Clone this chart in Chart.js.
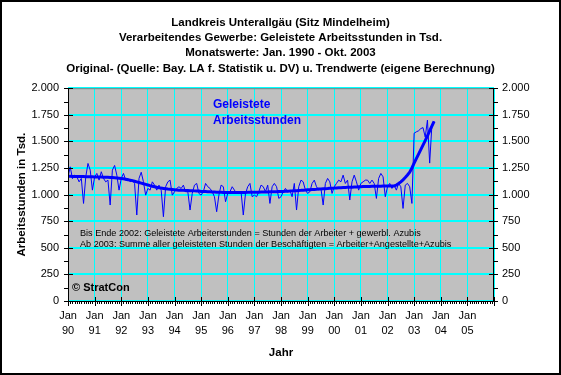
<!DOCTYPE html>
<html>
<head>
<meta charset="utf-8">
<script src="https://cdn.jsdelivr.net/npm/chart.js@4.4.0/dist/chart.umd.min.js"></script>
<style>
  body { margin: 0; background: #fff; }
</style>
</head>
<body>
<canvas id="chart" width="561" height="375"></canvas>
<script>
const titleLines = [
    "Landkreis Unterallgäu (Sitz Mindelheim)",
    "Verarbeitendes Gewerbe: Geleistete Arbeitsstunden in Tsd.",
    "Monatswerte: Jan. 1990 - Okt. 2003",
    "Original- (Quelle: Bay. LA f. Statistik u. DV) u. Trendwerte (eigene Berechnung)",
];
const yearLabels = ["90", "91", "92", "93", "94", "95", "96", "97", "98", "99", "00", "01", "02", "03", "04", "05"];
const notes = [
    "Bis Ende 2002: Geleistete Arbeiterstunden = Stunden der Arbeiter + gewerbl. Azubis",
    "Ab 2003: Summe aller geleisteten Stunden der Beschäftigten = Arbeiter+Angestellte+Azubis",
];

// monthly values, Jan 1990 - Oct 2003
const original = [
    1167, 1261, 1150, 1183, 1167, 1120, 1152, 917, 1167, 1293, 1230, 1042,
    1167, 1199, 1136, 1215, 1152, 1120, 1136, 902, 1230, 1274, 1183, 1042,
    1152, 1199, 1136, 1152, 1120, 1136, 1105, 808, 1152, 1210, 1120, 995,
    1058, 1042, 1120, 1089, 1042, 1089, 1042, 792, 1074, 1120, 1136, 995,
    1027, 1058, 1074, 1058, 1089, 1027, 1027, 855, 1011, 1089, 1105, 1011,
    995, 1027, 1105, 1074, 1058, 1027, 980, 839, 995, 1089, 1074, 933,
    1011, 1027, 1074, 1042, 1011, 1011, 1027, 808, 1011, 1074, 1105, 980,
    995, 980, 1027, 1089, 1074, 1027, 1089, 917, 1074, 1105, 1074, 964,
    980, 1027, 1058, 1027, 1042, 980, 1105, 855, 1074, 1136, 1120, 1042,
    1011, 1027, 1105, 1136, 1074, 1042, 1058, 902, 1105, 1152, 1120, 1011,
    1074, 1105, 1136, 1120, 1183, 1105, 1136, 949, 1120, 1183, 1120, 1042,
    1105, 1120, 1136, 1136, 1105, 1136, 1105, 964, 1152, 1199, 1167, 980,
    1074, 1105, 1058, 1089, 1042, 1105, 1074, 870, 1089, 1105, 1074, 917,
    1577, 1590, 1600, 1620, 1630, 1540, 1700, 1296, 1650, 1690,
];
const trend = [
    1172, 1172, 1171, 1171, 1170, 1170, 1169, 1169, 1168, 1168, 1167, 1167,
    1166, 1166, 1165, 1165, 1164, 1163, 1162, 1161, 1160, 1158, 1156, 1154,
    1151, 1148, 1144, 1140, 1136, 1131, 1126, 1120, 1114, 1108, 1102, 1096,
    1090, 1084, 1079, 1074, 1069, 1065, 1061, 1058, 1055, 1052, 1050, 1048,
    1046, 1044, 1042, 1041, 1040, 1039, 1038, 1037, 1036, 1035, 1034, 1034,
    1030, 1029, 1028, 1027, 1026, 1025, 1024, 1023, 1022, 1021, 1020, 1020,
    1019, 1019, 1019, 1019, 1019, 1019, 1020, 1020, 1020, 1021, 1021, 1022,
    1022, 1023, 1023, 1024, 1024, 1025, 1025, 1026, 1026, 1027, 1027, 1028,
    1029, 1030, 1031, 1032, 1033, 1035, 1036, 1037, 1039, 1040, 1042, 1043,
    1045, 1046, 1048, 1049, 1050, 1052, 1053, 1055, 1056, 1057, 1059, 1060,
    1061, 1063, 1064, 1065, 1066, 1067, 1068, 1069, 1070, 1071, 1072, 1073,
    1074, 1075, 1076, 1077, 1077, 1078, 1078, 1079, 1079, 1079, 1080, 1080,
    1080, 1080, 1080, 1081, 1090, 1104, 1120, 1139, 1160, 1184, 1211, 1250,
    1295, 1338, 1380, 1422, 1465, 1508, 1552, 1598, 1644, 1688,
];

const FONT = '"Liberation Sans", Arial, sans-serif';
const BLUE = "#0000ff";
const CYAN = "#00ffff";

const toPoints = (arr) => arr.map((v, i) => ({ x: i, y: v }));

function fmt(v) {
    if (v >= 1000) return Math.floor(v / 1000) + "." + String(v % 1000).padStart(3, "0");
    return String(v);
}

function line(ctx, x1, y1, x2, y2) {
    ctx.beginPath();
    ctx.moveTo(x1, y1);
    ctx.lineTo(x2, y2);
    ctx.stroke();
}

const frame = {
    id: "frame",
    beforeDraw(chart) {
        const { ctx, chartArea: a } = chart;
        ctx.save();
        ctx.fillStyle = "#fff";
        ctx.fillRect(0, 0, chart.width, chart.height);
        ctx.fillStyle = "#c0c0c0";
        ctx.fillRect(a.left, a.top, a.right - a.left, a.bottom - a.top);
        ctx.restore();
    },
    afterDraw(chart) {
        const { ctx, chartArea: a, scales } = chart;
        const xs = scales.x, ys = scales.y;
        ctx.save();
        ctx.lineWidth = 1;
        ctx.strokeStyle = "#808080";
        line(ctx, a.left, a.top + 0.5, a.right, a.top + 0.5);
        ctx.strokeStyle = "#000";
        line(ctx, a.left + 0.5, a.top, a.left + 0.5, a.bottom + 1);
        line(ctx, a.right - 0.5, a.top, a.right - 0.5, a.bottom + 1);
        line(ctx, a.left, a.bottom + 0.5, a.right, a.bottom + 0.5);

        // y ticks, major every 250, minor every 125
        for (let v = 0; v <= 2000; v += 125) {
            const py = Math.round(ys.getPixelForValue(v)) + 0.5;
            const major = v % 250 === 0;
            line(ctx, a.left - 4, py, major ? a.left + 5 : a.left, py);
            line(ctx, major ? a.right - 5 : a.right, py, a.right + 4, py);
        }
        // x ticks, major per year, minor per month
        for (let m = 0; m <= 192; m++) {
            const px = Math.round(xs.getPixelForValue(m)) + 0.5;
            const major = m % 12 === 0;
            line(ctx, px, major ? a.bottom - 4 : a.bottom, px, a.bottom + (major ? 5 : 3));
        }

        // series label
        ctx.fillStyle = BLUE;
        ctx.font = "bold 12px " + FONT;
        ctx.textBaseline = "middle";
        ctx.fillText("Geleistete", 213, 105);
        ctx.fillText("Arbeitsstunden", 213, 121);

        // notes
        ctx.fillStyle = "#000";
        ctx.font = "9.1px " + FONT;
        ctx.fillText(notes[0], 80, 233);
        ctx.fillText(notes[1], 80, 244);

        ctx.font = "bold 11px " + FONT;
        ctx.fillText("© StratCon", 72, 288);

        // outer frame
        ctx.lineWidth = 2;
        ctx.strokeRect(1, 1, chart.width - 2, chart.height - 2);
        ctx.restore();
    },
};

const config = {
    type: "line",
    data: {
        datasets: [
            {
                label: "Original",
                data: toPoints(original),
                borderColor: BLUE,
                borderWidth: 1,
                pointRadius: 0,
                tension: 0,
            },
            {
                label: "Trend",
                data: toPoints(trend),
                borderColor: BLUE,
                borderWidth: 3,
                pointRadius: 0,
                tension: 0,
            },
        ],
    },
    options: {
        responsive: false,
        animation: false,
        devicePixelRatio: 1,
        layout: { padding: 0 },
        scales: {
            x: {
                type: "linear",
                min: 0,
                max: 192,
                afterFit: (s) => { s.height = 74; },
                ticks: {
                    stepSize: 12,
                    autoSkip: false,
                    maxRotation: 0,
                    padding: 7,
                    color: "#000",
                    font: { family: FONT, size: 11, lineHeight: "15px" },
                    callback: (v) => (v < 192 ? ["Jan", yearLabels[v / 12]] : ""),
                },
                grid: { color: CYAN, lineWidth: 1, drawTicks: false },
                border: { display: false },
                title: {
                    display: true,
                    text: "Jahr",
                    color: "#000",
                    font: { family: FONT, size: 11.5, weight: "bold" },
                    padding: { top: 0, bottom: 15 },
                },
            },
            y: {
                position: "left",
                min: 0,
                max: 2000,
                afterFit: (s) => { s.width = 68; },
                ticks: {
                    stepSize: 250,
                    padding: 9,
                    color: "#000",
                    font: { family: FONT, size: 11 },
                    callback: (v) => fmt(v),
                },
                grid: { color: CYAN, lineWidth: 2, drawTicks: false },
                border: { display: false },
                title: {
                    display: true,
                    text: "Arbeitsstunden in Tsd.",
                    color: "#000",
                    font: { family: FONT, size: 11.5, weight: "bold" },
                    padding: { top: 15, bottom: 0 },
                },
            },
            y2: {
                position: "right",
                min: 0,
                max: 2000,
                afterFit: (s) => { s.width = 67; },
                ticks: {
                    stepSize: 250,
                    padding: 8,
                    color: "#000",
                    font: { family: FONT, size: 11 },
                    callback: (v) => fmt(v),
                },
                grid: { display: false, drawTicks: false },
                border: { display: false },
            },
        },
        plugins: {
            legend: { display: false },
            tooltip: { enabled: false },
            title: {
                display: true,
                text: titleLines,
                color: "#000",
                font: { family: FONT, size: 11.5, weight: "bold", lineHeight: "15.3px" },
                padding: { top: 15, bottom: 12 },
            },
        },
    },
    plugins: [frame],
};

const lineChart = new Chart(document.getElementById("chart"), config);
</script>
</body>
</html>
